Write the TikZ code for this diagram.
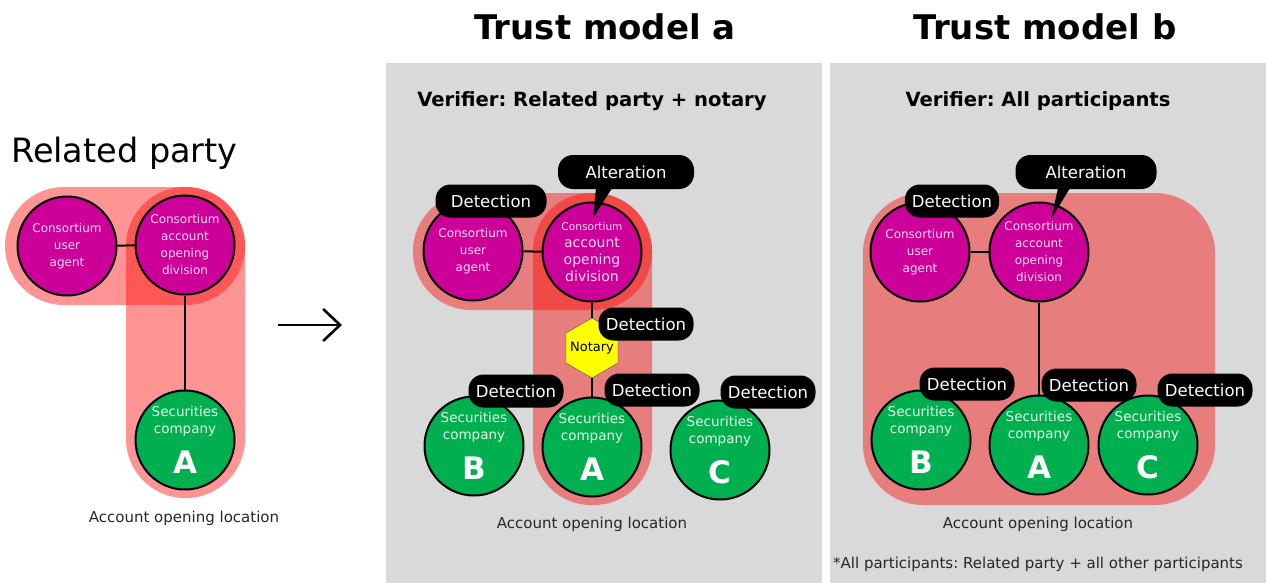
\documentclass[tikz,border=0pt]{standalone}
\usepackage{fontspec}
\setmainfont{DejaVu Sans}
\usepackage{tikz}
\usetikzlibrary{arrows.meta, shapes.geometric}
\frenchspacing

\definecolor{partyc}{RGB}{204,0,153}
\definecolor{partytxt}{RGB}{255,215,240}
\definecolor{firmc}{RGB}{0,176,80}
\definecolor{firmtxt}{RGB}{225,250,230}
\definecolor{panelc}{RGB}{217,217,217}
\definecolor{zonec}{RGB}{255,0,0}
\definecolor{notaryc}{RGB}{255,255,0}

\newcommand\firmid[1]{{\fontsize{31}{31}\selectfont\bfseries\color{white}#1}}

\tikzset{
  party/.style={circle, draw, line width=2pt, fill=partyc, text=partytxt, minimum size=99pt,
    inner sep=0pt, align=center, font=\fontsize{12}{17}\selectfont},
  firm/.style={circle, draw, line width=2pt, fill=firmc, text=firmtxt, minimum size=99pt,
    inner sep=0pt, align=center, font=\fontsize{13.5}{17}\selectfont},
  tag/.style={fill=black, text=white, rounded corners=15pt, minimum height=33pt, minimum width=95pt,
    inner xsep=7pt, font=\fontsize{16.5}{17}\selectfont},
  zone/.style={fill=zonec, fill opacity=0.42},
  panel/.style={fill=panelc},
  link/.style={line width=2pt},
  caption/.style={font=\fontsize{15}{15}\selectfont, text=black!85, anchor=base},
  heading/.style={font=\fontsize{19.6}{20}\selectfont\bfseries, anchor=base}
}

\begin{document}
\begin{tikzpicture}[x=1pt, y=-1pt]
    \useasboundingbox (0,0) rectangle (1266,583);

    % panels
    \fill[panel] (386,63) rectangle (822,583);
    \fill[panel] (830,63) rectangle (1266,583);
    \node[font=\fontsize{34}{34}\selectfont\bfseries, anchor=base] (titleA) at (605,40) {Trust model a};
    \node[font=\fontsize{34}{34}\selectfont\bfseries, anchor=base] (titleB) at (1045,40) {Trust model b};

    % related party
    \node[font=\fontsize{33.5}{34}\selectfont, anchor=base west, inner sep=0pt] (rp) at (11,162) {Related party};
    \fill[zone, rounded corners=59pt] (5,187) rectangle (245,305);
    \fill[zone, rounded corners=59pt] (126,187) rectangle (245,498);
    \node[party] (lUser) at (67,246) {Consortium\\user\\agent};
    \node[party] (lDiv) at (185,245) {Consortium\\account\\opening\\division};
    \node[firm] (lA) at (185,440) {Securities\\company\\[13pt]\firmid{A}};
    \draw[link] (lUser) -- (lDiv);
    \draw[link] (lDiv) -- (lA);
    \node[caption] (lLoc) at (184,522) {Account opening location};

    \coordinate (arrL) at (278,325);
    \coordinate (arrR) at (342,325);
    \draw[line width=2.6pt, -{Straight Barb[length=17pt, width=32pt, line width=2.6pt]}] (arrL) -- (arrR);

    % trust model a
    \node[heading] (verA) at (592,107) {Verifier: Related party + notary};
    \fill[zone, rounded corners=58pt] (413,193) rectangle (652,310);
    \fill[zone, rounded corners=58pt] (533,193) rectangle (652,505);
    \node[party] (aUser) at (473,251) {Consortium\\user\\agent};
    \node[party] (aDiv) at (592,252) {{\fontsize{10.6}{14}\selectfont Consortium}\\{\fontsize{14}{17}\selectfont account}\\{\fontsize{14}{17}\selectfont opening}\\{\fontsize{14}{17}\selectfont division}};
    \node[regular polygon, regular polygon sides=6, shape border rotate=30, draw=black!70, fill=notaryc,
      minimum size=60pt, inner sep=0pt, font=\fontsize{13}{14}\selectfont] (aNot) at (592,348) {\makebox[0pt]{Notary}};
    \node[firm] (aB) at (474,446) {Securities\\company\\[13pt]\firmid{B}};
    \node[firm] (aA) at (592,447) {Securities\\company\\[13pt]\firmid{A}};
    \node[firm] (aC) at (720,450) {Securities\\company\\[13pt]\firmid{C}};
    \draw[link] (aUser) -- (aDiv);
    \draw[link] (aDiv) -- (aNot);
    \draw[link] (aNot) -- (aA);
    \node[tag, minimum width=111pt] (aDetU) at (491,201) {Detection};
    \node[tag, minimum width=136pt, minimum height=34pt] (aAlt) at (626,172) {Alteration};
    \coordinate (aTip) at (593,218);
    \fill ([xshift=-30pt, yshift=1pt]aAlt.south) -- ([xshift=-14pt, yshift=1pt]aAlt.south) -- (aTip) -- cycle;
    \node[tag] (aDetN) at (646,324) {Detection};
    \node[tag] (aDetB) at (516,391) {Detection};
    \node[tag] (aDetA) at (652,390) {Detection};
    \node[tag] (aDetC) at (768,392) {Detection};
    \node[caption] (aLoc) at (592,528) {Account opening location};

    % trust model b
    \node[heading] (verB) at (1038,107) {Verifier: All participants};
    \fill[zone, rounded corners=60pt] (863,193) rectangle (1215,505);
    \node[party] (bUser) at (920,252) {Consortium\\user\\agent};
    \node[party] (bDiv) at (1039,252) {Consortium\\account\\opening\\division};
    \node[firm] (bB) at (921,440) {Securities\\company\\[13pt]\firmid{B}};
    \node[firm] (bA) at (1039,445) {Securities\\company\\[13pt]\firmid{A}};
    \node[firm] (bC) at (1148,445) {Securities\\company\\[13pt]\firmid{C}};
    \draw[link] (bUser) -- (bDiv);
    \draw[link] (bDiv) -- (bA);
    \node[tag, minimum width=91pt] (bDetU) at (952,201) {Detection};
    \node[tag, minimum width=141pt, minimum height=34pt] (bAlt) at (1086,172) {Alteration};
    \coordinate (bTip) at (1051,219);
    \fill ([xshift=-28pt, yshift=1pt]bAlt.south) -- ([xshift=-16pt, yshift=1pt]bAlt.south) -- (bTip) -- cycle;
    \node[tag] (bDetB) at (967,384) {Detection};
    \node[tag] (bDetA) at (1089,385) {Detection};
    \node[tag] (bDetC) at (1205,390) {Detection};
    \node[caption] (bLoc) at (1038,528) {Account opening location};
    \node[caption] (note) at (1038,568) {*All participants: Related party + all other participants};
\end{tikzpicture}
\end{document}
